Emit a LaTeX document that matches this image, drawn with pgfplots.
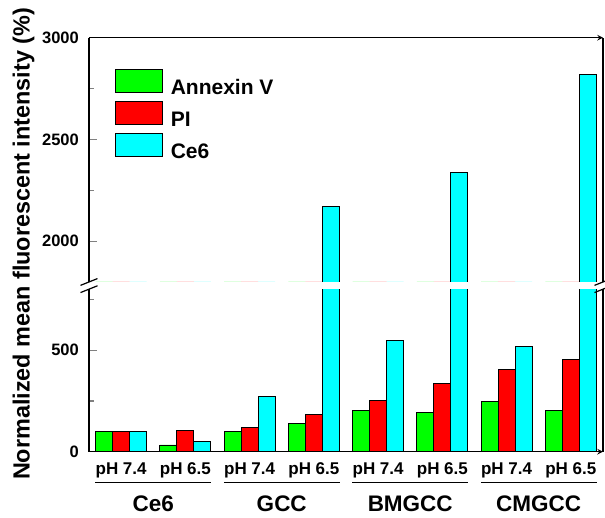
\documentclass[border=0pt]{standalone}
\usepackage{pgfplots}
\pgfplotsset{compat=1.18}
\usepackage{pgfplotstable}
\usepackage{fontspec}
\setmainfont{Liberation Sans}

\definecolor{annexgreen}{RGB}{0,255,0}
\definecolor{pired}{RGB}{255,0,0}
\definecolor{cesixcyan}{RGB}{0,255,255}

% normalized mean fluorescent intensity (%), one row per sample / pH
\pgfplotstableread{
x annexin pi ce6
0 100  100  100
1 33   105  49
2 100  120  270
3 141  185  2172
4 203  254  549
5 194  334  2338
6 248  405  516
7 203  452  2818
}\fluodata

\tikzset{
  ticknum/.style={font=\bfseries\fontsize{16.5}{16.5}\selectfont, anchor=east, inner sep=0pt},
}

\pgfplotsset{
  brokenpart/.style={
    width=514pt, scale only axis,
    xmin=-0.5, xmax=7.5,
    ybar=0pt, bar width=17pt,
    axis y line=box,
    ytick pos=left,
    axis line style={-, line width=1.5pt},
    tick align=inside,
    major tick length=8pt, minor tick length=5pt,
    ytick style={line width=1.2pt},
    minor tick style={line width=1.2pt},
    yticklabels={},
    xtick=\empty,
    axis on top,
    clip mode=individual,
    every axis plot/.append style={draw=black, line width=0.8pt},
  },
  legbox/.style={legend image code/.code={%
    \draw[##1, line width=0.8pt] (0pt,-4.3pt) rectangle (47pt,18.7pt);}},
}

\begin{document}
\begin{tikzpicture}
% lower part of the broken y axis: 0 to 800
\begin{axis}[brokenpart, name=lower,
  at={(0,0)}, anchor=south west,
  height=162.5pt, ymin=0, ymax=800,
  axis x line=bottom,
  ytick={0,500}, minor ytick={250,750},
]
\addplot[fill=annexgreen] table[x=x, y=annexin] {\fluodata};
\addplot[fill=pired] table[x=x, y=pi] {\fluodata};
\addplot[fill=cesixcyan] table[x=x, y=ce6] {\fluodata};
% y tick values
\foreach \v in {0,500} {
  \edef\temp{\noexpand\node[ticknum] at ([xshift=-10pt]axis cs:-0.5,\v) {\v};}
  \temp
}
% pH of each bar group
\foreach \c/\ph in {0/7.4, 1/6.5, 2/7.4, 3/6.5, 4/7.4, 5/6.5, 6/7.4, 7/6.5} {
  \edef\temp{\noexpand\node[font=\noexpand\bfseries\noexpand\fontsize{17}{17}\noexpand\selectfont, anchor=base, inner sep=0pt] at ([yshift=-23.3pt]axis cs:\c,0) {pH \ph};}
  \temp
}
% sample groups under the pH labels
\foreach \c/\name in {0.5/Ce6, 2.5/GCC, 4.5/BMGCC, 6.5/CMGCC} {
  \edef\temp{\noexpand\draw[line width=1.6pt] ([yshift=-31pt]axis cs:\c-0.9,0) -- ([yshift=-31pt]axis cs:\c+0.9,0);
    \noexpand\node[font=\noexpand\bfseries\noexpand\fontsize{22.5}{22.5}\noexpand\selectfont, anchor=base, inner sep=0pt] at ([yshift=-60pt]axis cs:\c,0) {\name};}
  \temp
}
\end{axis}

% upper part of the broken y axis: 1800 to 3000
\begin{axis}[brokenpart, name=upper,
  at={(0,169.7pt)}, anchor=south west,
  height=244.3pt, ymin=1800, ymax=3000,
  axis x line=top,
  ytick={2000,2500,3000}, minor ytick={2250,2750},
  legbox,
  legend cell align=left,
  legend style={draw=none, fill=none, at={(0.0506,0.8719)}, anchor=north west,
    inner sep=0pt, outer sep=0pt, row sep=4.5pt,
    font=\bfseries\fontsize{21}{21}\selectfont,
    nodes={inner sep=0pt},
    /tikz/every odd column/.append style={column sep=8pt}},
]
\addplot[fill=annexgreen] table[x=x, y=annexin] {\fluodata};
\addplot[fill=pired] table[x=x, y=pi] {\fluodata};
\addplot[fill=cesixcyan] table[x=x, y=ce6] {\fluodata};
\legend{Annexin V, PI, Ce6}
\foreach \v in {2000,2500,3000} {
  \edef\temp{\noexpand\node[ticknum] at ([xshift=-10pt]axis cs:-0.5,\v) {\v};}
  \temp
}
\end{axis}

% break marks on both vertical axis lines
\foreach \p in {lower.north west, upper.south west, lower.north east, upper.south east} {
  \draw[line width=1.2pt] ([shift={(-8.5pt,-3.4pt)}]\p) -- ([shift={(8.5pt,3.4pt)}]\p);
}

\node[rotate=90, font=\bfseries\fontsize{23.4}{23.4}\selectfont, inner sep=0pt]
  at (-65.5pt,207.7pt) {Normalized mean fluorescent intensity (\%)};

\pgfresetboundingbox
\path[use as bounding box] (-89pt,-66.3pt) rectangle (516pt,451.7pt);
\end{tikzpicture}
\end{document}
